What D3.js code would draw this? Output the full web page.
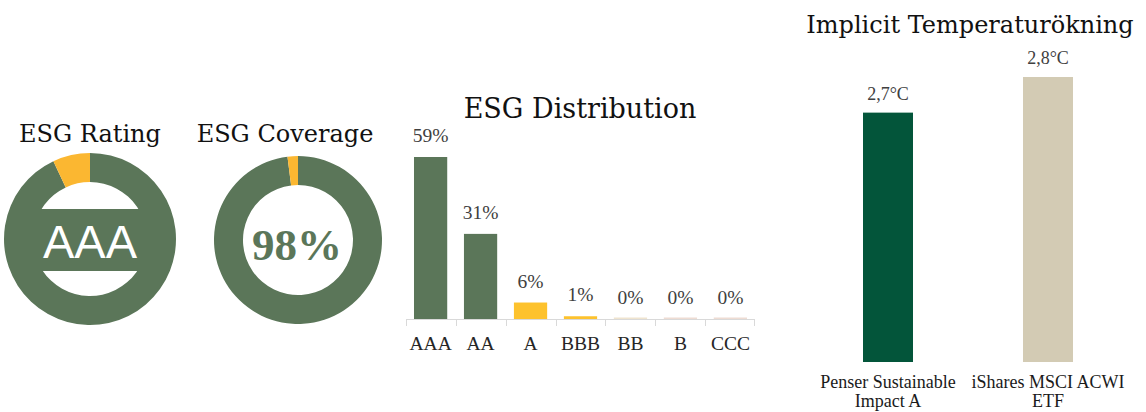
<!DOCTYPE html>
<html>
<head>
<meta charset="utf-8">
<script src="https://cdn.jsdelivr.net/npm/d3@7"></script>
<style>
  html, body { margin: 0; padding: 0; background: #ffffff; }
  svg { display: block; }
</style>
</head>
<body>
<svg id="chart" width="1146" height="412"></svg>
<script>
// ---------- DATA ----------
const ratingLabel = "AAA";
const ratingShares = [93, 7];            // share green / share yellow
const coverageShares = [98, 2];
const coverageLabel = "98%";
const distCategories = ["AAA", "AA", "A", "BBB", "BB", "B", "CCC"];
const distValues = [59, 31, 6, 1, 0, 0, 0];
const distLabels = ["59%", "31%", "6%", "1%", "0%", "0%", "0%"];
const tempFunds = [["Penser Sustainable", "Impact A"], ["iShares MSCI ACWI", "ETF"]];
const tempValues = [2.7, 2.8];
const tempLabels = ["2,7°C", "2,8°C"];
const titles = ["ESG Rating", "ESG Coverage", "ESG Distribution", "Implicit Temperaturökning"];

// ---------- STYLE ----------
const green = "#5b7659";
const yellow = "#fbb731";
const barYellow = "#fdc22d";
const distColors = [green, green, barYellow, barYellow, "#efe4cf", "#eedcd3", "#eedcd3"];
const tempColors = ["#03553a", "#d3cbb4"];
const titleFont = "'DejaVu Serif', serif";
const labelFont = "'Liberation Serif', 'Times New Roman', serif";

const svg = d3.select("#chart");

// ---------- DONUTS ----------
const pie = d3.pie().sort(null).value(d => d);

function donut(cx, cy, rOut, rIn, shares, colors) {
  const g = svg.append("g").attr("transform", `translate(${cx},${cy})`);
  const arc = d3.arc().innerRadius(rIn).outerRadius(rOut);
  g.selectAll("path").data(pie(shares)).join("path")
    .attr("d", arc).attr("fill", (d, i) => colors[i]);
  return g;
}

// ESG Rating
const g1 = donut(90, 239, 86, 57, ratingShares, [green, yellow]);
g1.append("rect").attr("x", -58).attr("y", -30).attr("width", 116).attr("height", 62).attr("fill", green);
g1.append("text").attr("x", 0).attr("y", 19).attr("text-anchor", "middle")
  .attr("font-family", "'Liberation Sans', Arial, sans-serif").attr("font-size", 47)
  .attr("fill", "#ffffff").text(ratingLabel);

// ESG Coverage
const g2 = donut(298, 240, 84, 55, coverageShares, [green, yellow]);
g2.append("text").attr("x", -1).attr("y", 20).attr("text-anchor", "middle")
  .attr("font-family", labelFont).attr("font-weight", "bold").attr("font-size", 45)
  .attr("fill", green).text(coverageLabel);

// Titles
const titlePos = [[90, 142, 24], [285, 142, 24], [580, 118, 27], [970, 33, 24]];
titles.forEach((t, i) => {
  svg.append("text").attr("x", titlePos[i][0]).attr("y", titlePos[i][1])
    .attr("text-anchor", "middle").attr("font-family", titleFont)
    .attr("font-size", titlePos[i][2]).attr("fill", "#111111").text(t);
});

// ---------- ESG DISTRIBUTION ----------
const xD = d3.scaleBand().domain(distCategories).range([407, 754]).paddingInner(0.335).paddingOuter(0.14);
const yD = d3.scaleLinear().domain([0, 59]).range([319, 157]);

const gD = svg.append("g");
gD.selectAll("rect").data(distValues).join("rect")
  .attr("x", (d, i) => xD(distCategories[i]))
  .attr("width", xD.bandwidth())
  .attr("y", d => Math.min(yD(d), yD(0) - 1.5))
  .attr("height", d => Math.max(yD(0) - yD(d), 1.5))
  .attr("fill", (d, i) => distColors[i]);

// axis line and ticks at band boundaries
const axisY = yD(0);
gD.append("line").attr("x1", 407).attr("x2", 754).attr("y1", axisY + 0.5).attr("y2", axisY + 0.5)
  .attr("stroke", "#d9d9d9").attr("stroke-width", 1);
const stepD = xD.step();
const bounds = distCategories.map(c => xD(c) - (stepD - xD.bandwidth()) / 2).concat([754]);
gD.selectAll("line.tick").data(bounds).join("line").attr("class", "tick")
  .attr("x1", d => Math.round(d) + 0.5).attr("x2", d => Math.round(d) + 0.5)
  .attr("y1", axisY).attr("y2", axisY + 7)
  .attr("stroke", "#d9d9d9").attr("stroke-width", 1);

// value labels
gD.selectAll("text.val").data(distValues).join("text").attr("class", "val")
  .attr("x", (d, i) => xD(distCategories[i]) + xD.bandwidth() / 2)
  .attr("y", d => yD(d) - 15)
  .attr("text-anchor", "middle").attr("font-family", labelFont).attr("font-size", 19.5)
  .attr("fill", "#404040").text((d, i) => distLabels[i]);

// category labels
gD.selectAll("text.cat").data(distCategories).join("text").attr("class", "cat")
  .attr("x", d => xD(d) + xD.bandwidth() / 2)
  .attr("y", 350)
  .attr("text-anchor", "middle").attr("font-family", labelFont).attr("font-size", 19.5)
  .attr("fill", "#262626").text(d => d);

// ---------- TEMPERATURE ----------
const fundKeys = tempFunds.map(f => f.join(" "));
const xT = d3.scaleBand().domain(fundKeys).range([808, 1128]).paddingInner(0.6875).paddingOuter(0.34375);
const yT = d3.scaleLinear().domain([2, 2.8]).range([362, 77]);

const gT = svg.append("g");
gT.selectAll("rect").data(tempValues).join("rect")
  .attr("x", (d, i) => xT(fundKeys[i]))
  .attr("width", xT.bandwidth())
  .attr("y", d => yT(d))
  .attr("height", d => yT(2) - yT(d))
  .attr("fill", (d, i) => tempColors[i]);

gT.selectAll("text.val").data(tempValues).join("text").attr("class", "val")
  .attr("x", (d, i) => xT(fundKeys[i]) + xT.bandwidth() / 2)
  .attr("y", d => yT(d) - 13)
  .attr("text-anchor", "middle").attr("font-family", labelFont).attr("font-size", 18)
  .attr("fill", "#404040").text((d, i) => tempLabels[i]);

tempFunds.forEach((lines, i) => {
  const t = gT.append("text")
    .attr("x", xT(fundKeys[i]) + xT.bandwidth() / 2)
    .attr("y", 388)
    .attr("text-anchor", "middle").attr("font-family", labelFont).attr("font-size", 18)
    .attr("fill", "#1a1a1a");
  lines.forEach((ln, j) => {
    t.append("tspan").attr("x", xT(fundKeys[i]) + xT.bandwidth() / 2)
      .attr("dy", j === 0 ? 0 : 19).text(ln);
  });
});
</script>
</body>
</html>
